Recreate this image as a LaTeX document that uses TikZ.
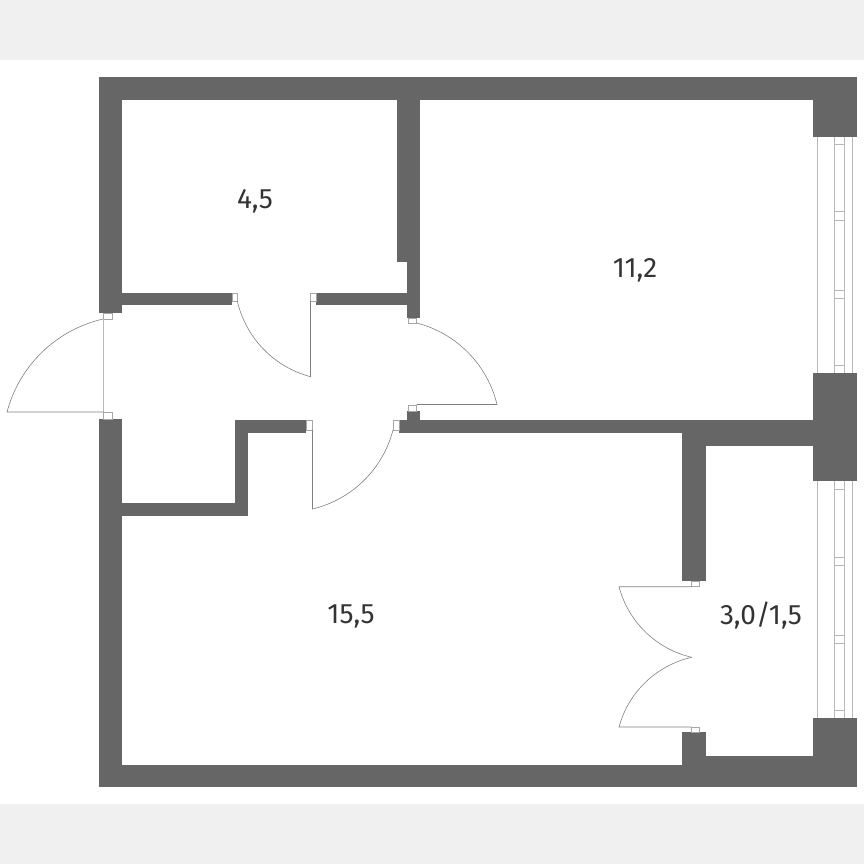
\documentclass[tikz,border=0pt]{standalone}
\usepackage{fontspec}
\setmainfont{Fira Sans}
\usepackage{tikz}
\usetikzlibrary{positioning}

\begin{document}
\begin{tikzpicture}[x=1pt, y=-1pt,
            band/.style={fill=black!6},
            wall/.style={fill=black!60},
            hinge/.style={draw=black!35, line width=0.5pt, fill=white},
            leaf/.style={draw=black!50, line width=0.6pt},
            pane/.style={draw=black!28, line width=0.9pt},
            area/.style={text=black!80, font=\fontsize{28}{28}\selectfont, inner sep=0pt}]
            \useasboundingbox (0,0) rectangle (864,864);
            \fill[band] (0,0) rectangle (864,60);
            \fill[band] (0,804) rectangle (864,864);

            \draw[pane] (817,137) -- (817,373);
            \draw[pane] (834.3,137) -- (834.3,373);
            \draw[pane] (844.7,137) -- (844.7,373);
            \draw[pane] (852.3,137) -- (852.3,373);
            \draw[pane] (817,481) -- (817,718);
            \draw[pane] (834.3,481) -- (834.3,718);
            \draw[pane] (844.7,481) -- (844.7,718);
            \draw[pane] (852.3,481) -- (852.3,718);

            \draw[pane] (834.3,144.3) -- (844.7,144.3);
            \draw[pane] (834.3,211.7) -- (844.7,211.7);
            \draw[pane] (834.3,220) -- (844.7,220);
            \draw[pane] (834.3,290) -- (844.7,290);
            \draw[pane] (834.3,298.7) -- (844.7,298.7);
            \draw[pane] (834.3,365) -- (844.7,365);
            \draw[pane] (834.3,489.3) -- (844.7,489.3);
            \draw[pane] (834.3,557) -- (844.7,557);
            \draw[pane] (834.3,565) -- (844.7,565);
            \draw[pane] (834.3,635) -- (844.7,635);
            \draw[pane] (834.3,643.7) -- (844.7,643.7);
            \draw[pane] (834.3,710) -- (844.7,710);

            \fill[wall] (99,77) rectangle (857,100);
            \fill[wall] (812.5,77) rectangle (857,137);
            \fill[wall] (99,77) rectangle (122,313);
            \fill[wall] (122,293) rectangle (232,305);
            \fill[wall] (397,100) rectangle (420,262);
            \fill[wall] (407,100) rectangle (420,318);
            \fill[wall] (316,292.5) rectangle (407,305);
            \fill[wall] (99,419) rectangle (122,787);
            \fill[wall] (99,765) rectangle (706,787);
            \fill[wall] (122,503) rectangle (248,516);
            \fill[wall] (235,420) rectangle (248,516);
            \fill[wall] (235,420) rectangle (306,433);
            \fill[wall] (407,411) rectangle (420,433);
            \fill[wall] (399,420) rectangle (812.5,433);
            \fill[wall] (681.7,420) rectangle (812.5,445.7);
            \fill[wall] (681.7,420) rectangle (706,581);
            \fill[wall] (812.5,373) rectangle (857,481);
            \fill[wall] (812.5,718) rectangle (857,787);
            \fill[wall] (681.7,732) rectangle (706,787);
            \fill[wall] (681.7,755.7) rectangle (857,787);

            \draw[hinge] (103,313) rectangle (112.7,319);
            \draw[hinge] (103,412) rectangle (112.7,419);
            \draw[hinge] (232,293) rectangle (237.3,301);
            \draw[hinge] (310.5,293) rectangle (316,301);
            \draw[hinge] (408,318) rectangle (416.7,323);
            \draw[hinge] (408,405) rectangle (416.7,411);
            \draw[hinge] (306,420) rectangle (312.5,430);
            \draw[hinge] (393,420) rectangle (399,430);
            \draw[hinge] (691.7,581) rectangle (699.7,586.7);
            \draw[hinge] (691.7,727) rectangle (699.7,732);

            \draw[pane, line width=0.4pt] (103,319) -- (103,412);
            \draw[leaf] (103,412) -- (7,412) to[bend left=31, looseness=0.92] (103,319);
            \draw[leaf] (310.5,301) -- (310.5,376.7) to[bend left=31, looseness=0.92] (237.3,301);
            \draw[leaf] (416.7,404.5) -- (497,404.5) to[bend right=31, looseness=0.92] (416.7,323);
            \draw[leaf] (312.5,430) -- (312.5,509) to[bend right=31, looseness=0.92] (393,430);
            \draw[leaf] (691.7,586.7) -- (619,586.7) to[bend right=31, looseness=0.92] (691.7,657.3);
            \draw[leaf] (691.7,727) -- (619,727) to[bend left=31, looseness=0.92] (691.7,657.3);

            \node (kitchen) [area] at (255,201) {4,5};
            \node (bedroom) [area] at (635,270) {11,2};
            \node (living) [area] at (351,616) {15,5};
            \node (balcony) [area] at (761,616) {3,0/1,5};
        \end{tikzpicture}
\end{document}
